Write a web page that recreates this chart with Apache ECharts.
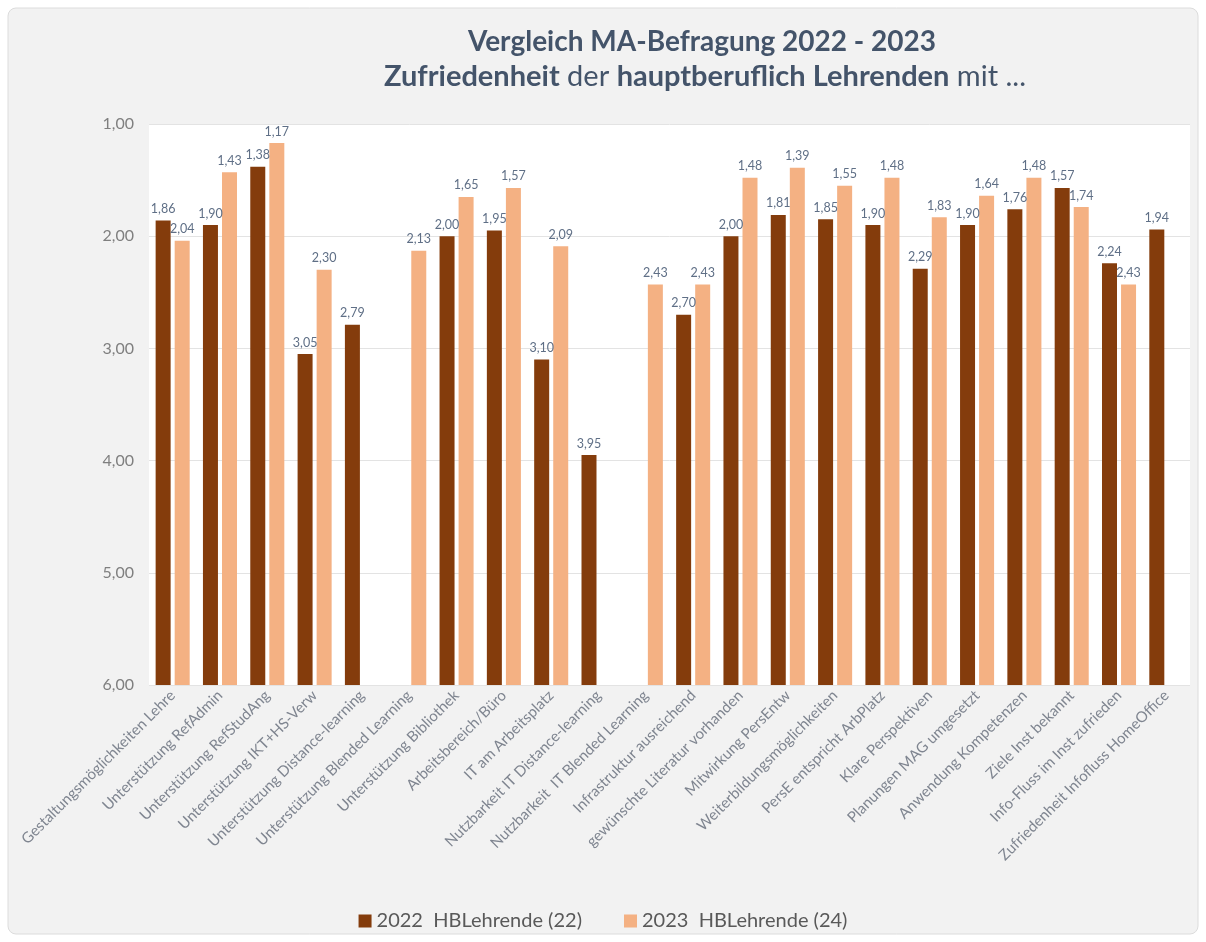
<!DOCTYPE html>
<html>
<head>
<meta charset="utf-8">
<script src="https://cdn.jsdelivr.net/npm/echarts@6/dist/echarts.min.js"></script>
<style>
  html, body { margin: 0; padding: 0; background: #ffffff; }
  #chart { width: 1206px; height: 942px; }
</style>
</head>
<body>
<div id="chart"></div>
<script>
// Survey items (mean ratings, 1 = best, 6 = worst)
const categories = [
  'Gestaltungsmöglichkeiten Lehre',
  'Unterstützung RefAdmin',
  'Unterstützung RefStudAng',
  'Unterstützung IKT+HS-Verw',
  'Unterstützung Distance-learning',
  'Unterstützung Blended Learning',
  'Unterstützung Bibliothek',
  'Arbeitsbereich/Büro',
  'IT am Arbeitsplatz',
  'Nutzbarkeit IT Distance-learning',
  'Nutzbarkeit  IT Blended Learning',
  'Infrastruktur ausreichend',
  'gewünschte Literatur vorhanden',
  'Mitwirkung PersEntw',
  'Weiterbildungsmöglichkeiten',
  'PersE entspricht ArbPlatz',
  'Klare Perspektiven',
  'Planungen MAG umgesetzt',
  'Anwendung Kompetenzen',
  'Ziele Inst bekannt',
  'Info-Fluss im Inst zufrieden',
  'Zufriedenheit Infofluss HomeOffice'
];

const values2022 = [1.86, 1.90, 1.38, 3.05, 2.79, null, 2.00, 1.95, 3.10, 3.95, null,
                    2.70, 2.00, 1.81, 1.85, 1.90, 2.29, 1.90, 1.76, 1.57, 2.24, 1.94];
const values2023 = [2.04, 1.43, 1.17, 2.30, null, 2.13, 1.65, 1.57, 2.09, null, 2.43,
                    2.43, 1.48, 1.39, 1.55, 1.48, 1.83, 1.64, 1.48, 1.74, 2.43, null];

const seriesNames = ['2022  HBLehrende (22)', '2023  HBLehrende (24)'];
const scaleMin = 1;
const scaleMax = 6;
const scaleStep = 1;

const FONT = 'Lato, "Open Sans", sans-serif';
const fmt = v => v.toFixed(2).replace('.', ',');

const chart = echarts.init(document.getElementById('chart'), null, { renderer: 'canvas' });

const labelStyle = {
  show: true,
  position: 'top',
  distance: 5,
  fontFamily: FONT,
  fontSize: 12.5,
  color: '#5f6f86',
  formatter: p => (p.value == null ? '' : fmt(p.value))
};

chart.setOption({
  backgroundColor: '#ffffff',
  animation: false,
  graphic: [
    {
      type: 'rect',
      z: -10,
      shape: { x: 8, y: 8, width: 1190, height: 926, r: 8 },
      style: { fill: '#f2f2f2', stroke: '#dcdcdc', lineWidth: 1 }
    },
    {
      type: 'text',
      x: 702, y: 42,
      style: {
        text: 'Vergleich MA-Befragung 2022 - 2023',
        align: 'center', verticalAlign: 'middle',
        font: 'bold 28px ' + FONT,
        fill: '#44546a'
      }
    },
    {
      type: 'text',
      x: 705, y: 77,
      style: {
        text: '{b|Zufriedenheit}{n| der }{b|hauptberuflich Lehrenden}{n| mit ...}',
        align: 'center', verticalAlign: 'middle',
        fill: '#44546a',
        rich: {
          b: { fontFamily: FONT, fontWeight: 'bold', fontSize: 29, fill: '#44546a' },
          n: { fontFamily: FONT, fontWeight: 'normal', fontSize: 29, fill: '#44546a' }
        }
      }
    }
  ],
  grid: {
    left: 149, right: 16, top: 124, bottom: 257,
    show: true, backgroundColor: '#ffffff', borderWidth: 0
  },
  legend: {
    top: 906,
    left: 'center',
    itemWidth: 13, itemHeight: 13, itemGap: 42,
    icon: 'rect',
    textStyle: { fontFamily: FONT, fontSize: 20, color: '#595959' },
    data: seriesNames
  },
  xAxis: {
    type: 'category',
    data: categories,
    axisLine: { show: false, onZero: false },
    axisTick: { show: false },
    axisLabel: {
      interval: 0,
      rotate: 45,
      margin: 8,
      fontFamily: FONT,
      fontSize: 15,
      color: '#7f8590'
    }
  },
  yAxis: {
    type: 'value',
    inverse: true,
    min: scaleMin,
    max: scaleMax,
    interval: scaleStep,
    startValue: scaleMax,
    axisLine: { show: false },
    axisTick: { show: false },
    axisLabel: {
      formatter: v => fmt(v),
      margin: 15,
      fontFamily: FONT,
      fontSize: 16,
      color: '#7f7f7f'
    },
    splitLine: { lineStyle: { color: '#e3e3e3', width: 1 } }
  },
  series: [
    {
      name: seriesNames[0],
      type: 'bar',
      data: values2022,
      barWidth: 15,
      barGap: '27%',
      itemStyle: { color: '#843c0c' },
      label: labelStyle
    },
    {
      name: seriesNames[1],
      type: 'bar',
      data: values2023,
      barWidth: 15,
      barGap: '27%',
      itemStyle: { color: '#f4b183' },
      label: labelStyle
    }
  ]
});
</script>
</body>
</html>
